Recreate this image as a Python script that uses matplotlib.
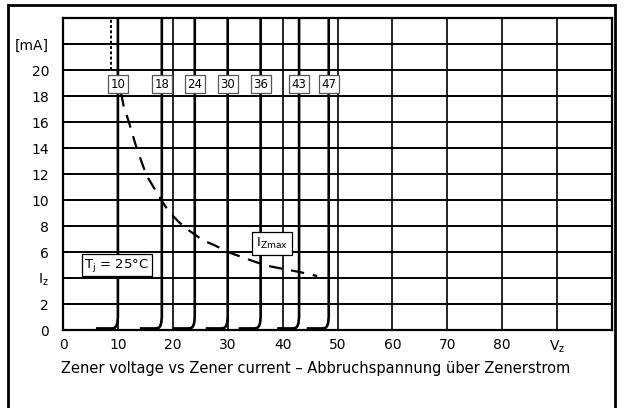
import matplotlib
matplotlib.use('Agg')
import matplotlib.pyplot as plt
from matplotlib.patches import Rectangle

# ---- data ----
zener_voltages = [10, 18, 24, 30, 36, 43, 48.4]
zener_labels = ['10', '18', '24', '30', '36', '43', '47']
knee_dv = [-4.0, -1.2, -0.6, -0.3, -0.1, 0.0, 0.0]
knee_i = [0.12, 0.12, 0.16, 0.3, 0.55, 1.0, 24.0]

izmax_v = [10.6, 11.0, 12.0, 13.4, 15.2, 17.9, 19.2, 21.1, 22.8, 25.5, 27.7,
           30.0, 35.3, 37.7, 43.2, 46.3]
izmax_i = [18.2, 17.3, 16.0, 14.0, 11.9, 10.0, 9.15, 8.3, 7.7, 6.9, 6.5,
           6.0, 5.2, 4.9, 4.45, 4.15]

x_ticks = [0, 10, 20, 30, 40, 50, 60, 70, 80, 90]
x_tick_labels = ['0', '10', '20', '30', '40', '50', '60', '70', '80',
                 r'$\mathregular{V_z}$']
y_ticks = [0, 2, 4, 6, 8, 10, 12, 14, 16, 18, 20, 22]
y_tick_labels = ['0', '2', r'$\mathregular{I_z}$', '6', '8', '10', '12', '14',
                 '16', '18', '20', '[mA]']

dotted_v = [8.7, 8.7]
dotted_i = [20, 24]

plt.rcParams['font.family'] = ['DejaVu Sans']

fig = plt.figure(figsize=(6.26, 4.08), dpi=100)
W, H = 626, 408
ax = fig.add_axes([63 / W, 1 - 330 / H, (612 - 63) / W, (330 - 18) / H])
ax.set_xlim(0, 100)
ax.set_ylim(0, 24)
ax.set_facecolor('none')

for x in range(10, 100, 10):
    ax.axvline(x, color='black', lw=1.2, zorder=1)
for y in range(2, 24, 2):
    ax.axhline(y, color='black', lw=1.4, zorder=1)
for s in ax.spines.values():
    s.set_linewidth(1.6)

ax.set_xticks(x_ticks)
ax.set_xticklabels(x_tick_labels, fontsize=10)
ax.set_yticks(y_ticks)
ax.set_yticklabels(y_tick_labels, fontsize=10)
ax.tick_params(length=0, pad=6)
ax.tick_params(axis='y', pad=10)

for vz in zener_voltages:
    ax.plot([vz + d for d in knee_dv], knee_i, color='black', lw=1.9,
            solid_capstyle='butt', zorder=3)

ax.plot(dotted_v, dotted_i, color='black', lw=1.4, ls=(0, (1.5, 1.2)), zorder=3)

ax.plot(izmax_v, izmax_i, color='black', lw=1.6, ls=(0, (6, 4)), zorder=3)

for vz, lab in zip(zener_voltages, zener_labels):
    ax.text(vz, 18.9, lab, ha='center', va='center', fontsize=8.5, zorder=5,
            bbox=dict(boxstyle='square,pad=0.22', fc='white', ec='#555555', lw=0.9))

ax.text(9.8, 5.0, r'$\mathregular{T_j}$ = 25°C', ha='center', va='center',
        fontsize=9.5, zorder=5,
        bbox=dict(boxstyle='square,pad=0.22', fc='white', ec='black', lw=0.9))
ax.text(38.0, 6.65, r'$\mathregular{I_{Zmax}}$', ha='center', va='center',
        fontsize=9.5, zorder=5,
        bbox=dict(boxstyle='square,pad=0.3', fc='white', ec='black', lw=0.9))

fig.text(61 / W, 1 - 368 / H,
         'Zener voltage vs Zener current – Abbruchspannung über Zenerstrom',
         ha='left', va='center', fontsize=10.5)

fig.add_artist(Rectangle((8 / W, -0.1), (615 - 8) / W, 1 - 5 / H + 0.1,
                         transform=fig.transFigure, fill=False, lw=2.0,
                         ec='black'))

fig.savefig('out.png', dpi=100)
